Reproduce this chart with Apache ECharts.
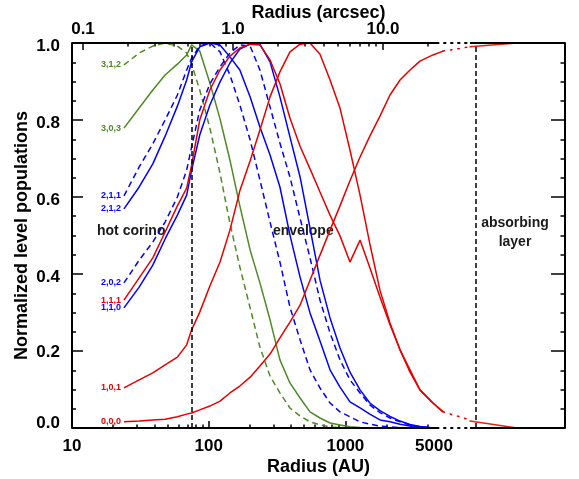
<!DOCTYPE html>
<html><head><meta charset="utf-8">
<script src="https://cdn.jsdelivr.net/npm/echarts@6/dist/echarts.min.js"></script>
<style>html,body{margin:0;padding:0;background:#fff}#c{width:579px;height:479px}</style>
</head><body><div id="c"></div>
<script>
// ---------------- data ----------------
const radiusAU = [24, 31, 39, 48, 59, 69, 75, 86, 102, 121, 143, 169, 201, 237, 281, 332, 393, 466, 551, 652, 772, 913, 1080, 1280, 1510, 1790, 2120, 2510, 2970, 3510, 4370, 5180];

const pop312 = [0.943, 0.974, 0.992, 1.0, 0.992, 0.974, 0.945, 0.878, 0.779, 0.662, 0.532, 0.418, 0.312, 0.210, 0.135, 0.091, 0.052, 0.031, 0.016, 0.008, 0.003, 0.001, 0, 0, 0, 0, 0, 0, 0, 0, 0, null];
const pop303 = [0.779, 0.831, 0.878, 0.917, 0.945, 0.969, 0.995, 0.979, 0.896, 0.803, 0.696, 0.577, 0.462, 0.377, 0.281, 0.177, 0.117, 0.078, 0.042, 0.026, 0.013, 0.008, 0.003, 0.001, 0, 0, 0, 0, 0, 0, 0, null];
const pop211 = [0.603, 0.678, 0.738, 0.800, 0.865, 0.930, 0.961, 0.992, 1.0, 0.977, 0.917, 0.839, 0.748, 0.644, 0.535, 0.431, 0.314, 0.229, 0.151, 0.104, 0.065, 0.042, 0.029, 0.016, 0.010, 0.005, 0.003, 0.001, 0, 0, 0, null];
const pop212 = [0.569, 0.626, 0.686, 0.758, 0.836, 0.904, 0.951, 0.990, 1.0, 0.995, 0.964, 0.930, 0.860, 0.782, 0.709, 0.626, 0.501, 0.392, 0.299, 0.226, 0.151, 0.106, 0.068, 0.052, 0.036, 0.021, 0.016, 0.010, 0.005, 0.003, 0, null];
const pop202 = [0.377, 0.436, 0.483, 0.535, 0.600, 0.670, 0.730, 0.826, 0.894, 0.938, 0.974, 0.995, 0.992, 0.930, 0.834, 0.740, 0.652, 0.545, 0.442, 0.332, 0.247, 0.177, 0.125, 0.091, 0.060, 0.040, 0.026, 0.016, 0.008, 0.003, 0, null];
const pop110 = [0.312, 0.366, 0.423, 0.491, 0.553, 0.605, 0.670, 0.761, 0.839, 0.899, 0.948, 0.984, 0.997, 0.997, 0.951, 0.860, 0.756, 0.652, 0.519, 0.384, 0.286, 0.208, 0.145, 0.099, 0.065, 0.045, 0.030, 0.018, 0.009, 0.004, 0, null];
const pop111 = [0.332, 0.390, 0.442, 0.509, 0.577, 0.623, 0.683, 0.800, 0.878, 0.930, 0.966, 0.987, 0.997, 0.995, 0.956, 0.894, 0.805, 0.732, 0.673, 0.613, 0.553, 0.499, 0.431, 0.488, 0.416, 0.340, 0.268, 0.203, 0.151, 0.099, 0.065, 0.042];
const pop101 = [0.104, 0.125, 0.143, 0.164, 0.184, 0.216, 0.255, 0.301, 0.369, 0.431, 0.514, 0.616, 0.694, 0.774, 0.860, 0.925, 0.977, 0.997, 1.0, 0.971, 0.904, 0.831, 0.722, 0.605, 0.478, 0.358, 0.273, 0.203, 0.145, 0.099, 0.065, 0.042];
const pop000 = [0.016, 0.018, 0.021, 0.023, 0.029, 0.036, 0.039, 0.047, 0.057, 0.070, 0.091, 0.109, 0.132, 0.161, 0.192, 0.234, 0.275, 0.319, 0.384, 0.449, 0.514, 0.577, 0.642, 0.704, 0.758, 0.810, 0.865, 0.904, 0.930, 0.953, 0.969, 0.979];

// axis-break region (dotted) and absorbing layer (solid) tails
const breakRadiusAU = [5180, 8160];
const tailRadiusAU = [8160, 18000];
const pop000Break = [0.979, 0.990];
const pop000Tail = [0.990, 1.0];
const popLowBreak = [0.042, 0.021];
const popLowTail = [0.018, 0.0];

const hotCorinoAU = 75;
const absorbingAU = 9000;
const axisBreakAU = [4680, 8160];

const auMajorTicks = [10, 100, 1000];
const auTickLabels = [10, 100, 1000, 5000];
const auMinorTicks = [20, 30, 40, 50, 60, 70, 80, 90, 200, 300, 400, 500, 600, 700, 800, 900, 2000, 3000, 4000];
const arcsecMajorTicks = [0.1, 1, 10];
const arcsecMinorTicks = [0.2, 0.3, 0.4, 0.5, 0.6, 0.7, 0.8, 0.9, 2, 3, 4, 5, 6, 7, 8, 9, 20];

const levelNames = ['3,1,2', '3,0,3', '2,1,1', '2,1,2', '2,0,2', '1,1,1', '1,1,0', '1,0,1', '0,0,0'];

// ---------------- chart ----------------
const L = Math.log10;
const X_MIN = 1, X_MAX = 4.6065;
const TOP_MIN = -1.0733, TOP_MAX = 2.2133;
const FONT = '"Liberation Sans", Arial, Helvetica, sans-serif';
const GREEN = '#4e8a23', BLUE = '#0000ff', RED = '#e60000', TAIL = '#d8280c';

function pts(rs, vs, name, color) {
  const out = [];
  rs.forEach((r, i) => { if (vs[i] !== null && vs[i] !== undefined) out.push([L(r), vs[i]]); });
  if (name) {
    out[0] = { value: out[0], label: { show: true, formatter: name, position: 'left', distance: 3,
      color: color, fontSize: 9, fontWeight: 'bold', fontFamily: FONT } };
  }
  return out;
}
function curve(name, vs, color, dashed) {
  return {
    type: 'line', name: name, xAxisIndex: 0, yAxisIndex: 0,
    data: pts(radiusAU, vs, name, color),
    symbol: 'circle', symbolSize: 0, showSymbol: true, showAllSymbol: true,
    lineStyle: { color: color, width: 1.5, type: dashed ? [6, 4] : 'solid' },
    itemStyle: { color: color }, silent: true, z: 3
  };
}
function seg(rs, vs, color, type) {
  return {
    type: 'line', xAxisIndex: 0, yAxisIndex: 0, data: pts(rs, vs),
    symbol: 'none', lineStyle: { color: color, width: 1.5, type: type, cap: 'round' }, silent: true, z: 3
  };
}

const frameSolid = { color: '#000', width: 2, type: 'solid' };
const frameDot = { color: '#000', width: 2, type: [1.5, 5.5], cap: 'round' };
const b0 = L(axisBreakAU[0]), b1 = L(axisBreakAU[1]);
const frameSeries = {
  type: 'line', data: [], xAxisIndex: 0, yAxisIndex: 0, silent: true, z: 5,
  markLine: {
    silent: true, symbol: ['none', 'none'], label: { show: false }, animation: false,
    data: [
      [{ coord: [X_MIN, 0], lineStyle: frameSolid }, { coord: [b0, 0] }],
      [{ coord: [b0, 0], lineStyle: frameDot }, { coord: [b1, 0] }],
      [{ coord: [b1, 0], lineStyle: frameSolid }, { coord: [X_MAX, 0] }],
      [{ coord: [X_MIN, 1], lineStyle: frameSolid }, { coord: [b0, 1] }],
      [{ coord: [b0, 1], lineStyle: frameDot }, { coord: [b1, 1] }],
      [{ coord: [b1, 1], lineStyle: frameSolid }, { coord: [X_MAX, 1] }],
      [{ coord: [L(hotCorinoAU), 0], lineStyle: { color: '#000', width: 1.5, type: [5, 3] } }, { coord: [L(hotCorinoAU), 1] }],
      [{ coord: [L(absorbingAU), 0], lineStyle: { color: '#000', width: 1.5, type: [5, 3] } }, { coord: [L(absorbingAU), 1] }]
    ]
  }
};

const lab = { fontSize: 17, fontWeight: 'bold', color: '#000', fontFamily: FONT };
const nameStyle = { fontSize: 18, fontWeight: 'bold', color: '#000', fontFamily: FONT };
const tickLine = { color: '#000', width: 1.5 };

function yAx(pos, interval, len, line, extra) {
  return Object.assign({ type: 'value', position: pos, min: 0, max: 1, interval: interval,
    axisLine: { show: line, onZero: false, lineStyle: { color: '#000', width: 2 } }, splitLine: { show: false },
    axisLabel: { show: false },
    axisTick: { show: true, inside: true, length: len, lineStyle: tickLine } }, extra || {});
}

// small vertical nudges of the y tick labels, as in the original figure
const yRich = {
  dn: Object.assign({ padding: [6, 0, 0, 0] }, lab),
  dn1: Object.assign({ padding: [2, 0, 0, 0] }, lab),
  up: Object.assign({ padding: [0, 0, 9, 0] }, lab)
};
function yLabel(v) {
  const t = v.toFixed(1);
  if (v < 0.01) return '{up|' + t + '}';
  if (Math.abs(v - 0.2) < 0.01) return '{dn1|' + t + '}';
  return '{dn|' + t + '}';
}
const xRich = { sh: Object.assign({ padding: [0, 14, 0, 0] }, lab), n: lab };
function xLabel(v) {
  const r = Math.round(Math.pow(10, v));
  return r === 5000 ? '{sh|' + r + '}' : '{n|' + r + '}';
}

const option = {
  animation: false,
  backgroundColor: '#fff',
  grid: { left: 72, right: 14, top: 43, bottom: 51, containLabel: false, outerBoundsMode: 'none' },
  xAxis: [
    { type: 'value', position: 'bottom', min: X_MIN, max: X_MAX,
      axisLine: { show: false, onZero: false }, splitLine: { show: false },
      axisTick: { show: true, inside: true, length: 7, lineStyle: tickLine, customValues: auMajorTicks.map(L) },
      axisLabel: Object.assign({ customValues: auTickLabels.map(L), margin: 10, showMinLabel: true, showMaxLabel: true,
        formatter: xLabel, rich: xRich }, lab),
      name: 'Radius (AU)', nameLocation: 'middle', nameGap: 30, nameMoveOverlap: false, nameTextStyle: nameStyle },
    { type: 'value', position: 'bottom', min: X_MIN, max: X_MAX,
      axisLine: { show: false, onZero: false }, splitLine: { show: false }, axisLabel: { show: false },
      axisTick: { show: true, inside: true, length: 3.5, lineStyle: tickLine, customValues: auMinorTicks.map(L) } },
    { type: 'value', position: 'top', min: TOP_MIN, max: TOP_MAX,
      axisLine: { show: false, onZero: false }, splitLine: { show: false },
      axisTick: { show: true, inside: true, length: 7, lineStyle: tickLine, customValues: arcsecMajorTicks.map(L) },
      axisLabel: Object.assign({ customValues: arcsecMajorTicks.map(L), margin: 5, showMinLabel: true, showMaxLabel: true,
        formatter: v => Math.pow(10, v).toFixed(1) }, lab),
      name: 'Radius (arcsec)', nameLocation: 'middle', nameGap: 21, nameMoveOverlap: false, nameTextStyle: nameStyle },
    { type: 'value', position: 'top', min: TOP_MIN, max: TOP_MAX,
      axisLine: { show: false, onZero: false }, splitLine: { show: false }, axisLabel: { show: false },
      axisTick: { show: true, inside: true, length: 3.5, lineStyle: tickLine, customValues: arcsecMinorTicks.map(L) } }
  ],
  yAxis: [
    yAx('left', 0.2, 11, true, {
      axisLabel: Object.assign({ show: true, margin: 12, formatter: yLabel, rich: yRich }, lab),
      name: 'Normalized level populations', nameLocation: 'middle', nameGap: 41, nameRotate: 90,
      nameMoveOverlap: false, nameTextStyle: nameStyle }),
    yAx('left', 0.05, 4, false),
    yAx('right', 0.2, 14, true),
    yAx('right', 0.05, 4.5, false)
  ],
  graphic: [
    { type: 'text', left: 97, top: 224, silent: true,
      style: { text: 'hot corino', font: 'bold 14px ' + FONT, fill: '#1a1a1a' } },
    { type: 'text', left: 273, top: 224, silent: true,
      style: { text: 'envelope', font: 'bold 14px ' + FONT, fill: '#1a1a1a' } },
    { type: 'text', x: 515, y: 214, silent: true,
      style: { text: 'absorbing\nlayer', font: 'bold 14px ' + FONT, fill: '#1a1a1a', align: 'center', verticalAlign: 'top', lineHeight: 19 } }
  ],
  series: [
    curve(levelNames[0], pop312, GREEN, true),
    curve(levelNames[1], pop303, GREEN, false),
    curve(levelNames[2], pop211, BLUE, true),
    curve(levelNames[3], pop212, BLUE, false),
    curve(levelNames[4], pop202, BLUE, true),
    curve(levelNames[6], pop110, BLUE, false),
    curve(levelNames[5], pop111, RED, false),
    curve(levelNames[7], pop101, RED, false),
    curve(levelNames[8], pop000, RED, false),
    seg(breakRadiusAU, pop000Break, RED, [1.5, 6]),
    seg(breakRadiusAU, popLowBreak, RED, [1.5, 6]),
    seg(tailRadiusAU, pop000Tail, TAIL, 'solid'),
    seg(tailRadiusAU, popLowTail, TAIL, 'solid'),
    frameSeries
  ]
};

const chart = echarts.init(document.getElementById('c'), null, { renderer: 'canvas' });
chart.setOption(option);
</script>
</body></html>
